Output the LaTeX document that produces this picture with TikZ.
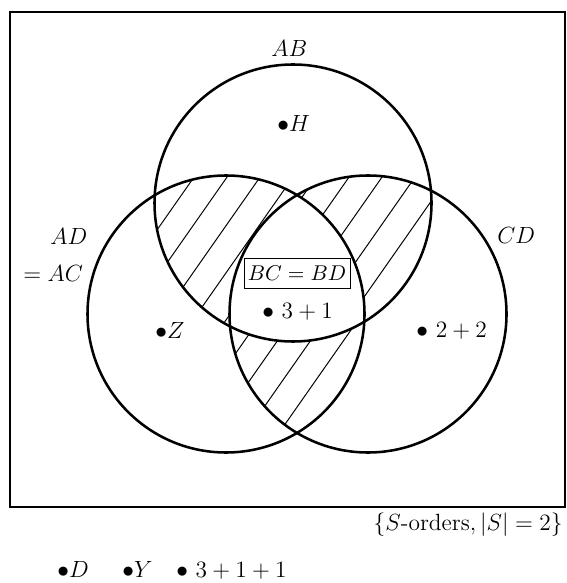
\documentclass[tikz,border=0pt]{standalone}
\begin{document}
\begin{tikzpicture}[x=0.018cm,y=-0.018cm,
  font=\fontsize{12}{14}\selectfont,
  circ/.style={line width=1.3pt},
  hatch/.style={line width=0.5pt},
  frame/.style={line width=0.8pt},
  lab/.style={inner sep=0pt,anchor=base west}]
\useasboundingbox (0,0) rectangle (566,583);
\def\rr{138.5}
\coordinate (cAB) at (293,203);
\coordinate (cL) at (226,314);
\coordinate (cR) at (368,314);
% hatching of pairwise intersections
\begin{scope}
  \clip (cAB) circle (\rr);
  \clip (cL) circle (\rr);
  \foreach \k in {-3,...,14} {\pgfmathsetmacro{\xx}{108+33*\k}
    \draw[hatch] (\xx-210,600) -- (\xx+210,0);}
\end{scope}
\begin{scope}
  \clip (cAB) circle (\rr);
  \clip (cR) circle (\rr);
  \foreach \k in {-3,...,14} {\pgfmathsetmacro{\xx}{98+33*\k}
    \draw[hatch] (\xx-210,600) -- (\xx+210,0);}
\end{scope}
\begin{scope}
  \clip (cL) circle (\rr);
  \clip (cR) circle (\rr);
  \foreach \k in {-3,...,14} {\pgfmathsetmacro{\xx}{108+33*\k}
    \draw[hatch] (\xx-210,600) -- (\xx+210,0);}
\end{scope}
\begin{scope}
  \clip (cAB) circle (\rr);
  \clip (cL) circle (\rr);
  \fill[white] (cR) circle (\rr);
\end{scope}
% circles
\draw[circ] (cAB) circle (\rr);
\draw[circ] (cL) circle (\rr);
\draw[circ] (cR) circle (\rr);
% frame
\draw[frame] (10,12) rectangle (565,507);
% labels
\node[lab] (tAB) at (271,57) {$AB$};
\node[lab] (tH) at (277,132) {$\bullet H$};
\node[lab] (tAD) at (50,245) {$AD$};
\node[lab] (tAC) at (23,282) {$=AC$};
\node[lab] (tCD) at (497,244) {$CD$};
\node[lab] (tZ) at (155,338) {$\bullet Z$};
\node[lab] (t31) at (262,318) {$\bullet$ $3+1$};
\node[lab] (t22) at (416,337) {$\bullet$ $2+2$};
\node[draw,line width=0.5pt,inner xsep=2pt,inner ysep=4pt,font=\fontsize{11}{13}\selectfont] (bc) at (297,273.5) {$BC=BD$};
\node[inner sep=0pt,anchor=base east] (set) at (563,530) {$\{S$-orders$,|S|=2\}$};
\node[lab] (tD) at (57,577) {$\bullet D$};
\node[lab] (tY) at (122,577) {$\bullet Y$};
\node[lab] (t311) at (176,577) {$\bullet$ $3+1+1$};
\end{tikzpicture}
\end{document}
